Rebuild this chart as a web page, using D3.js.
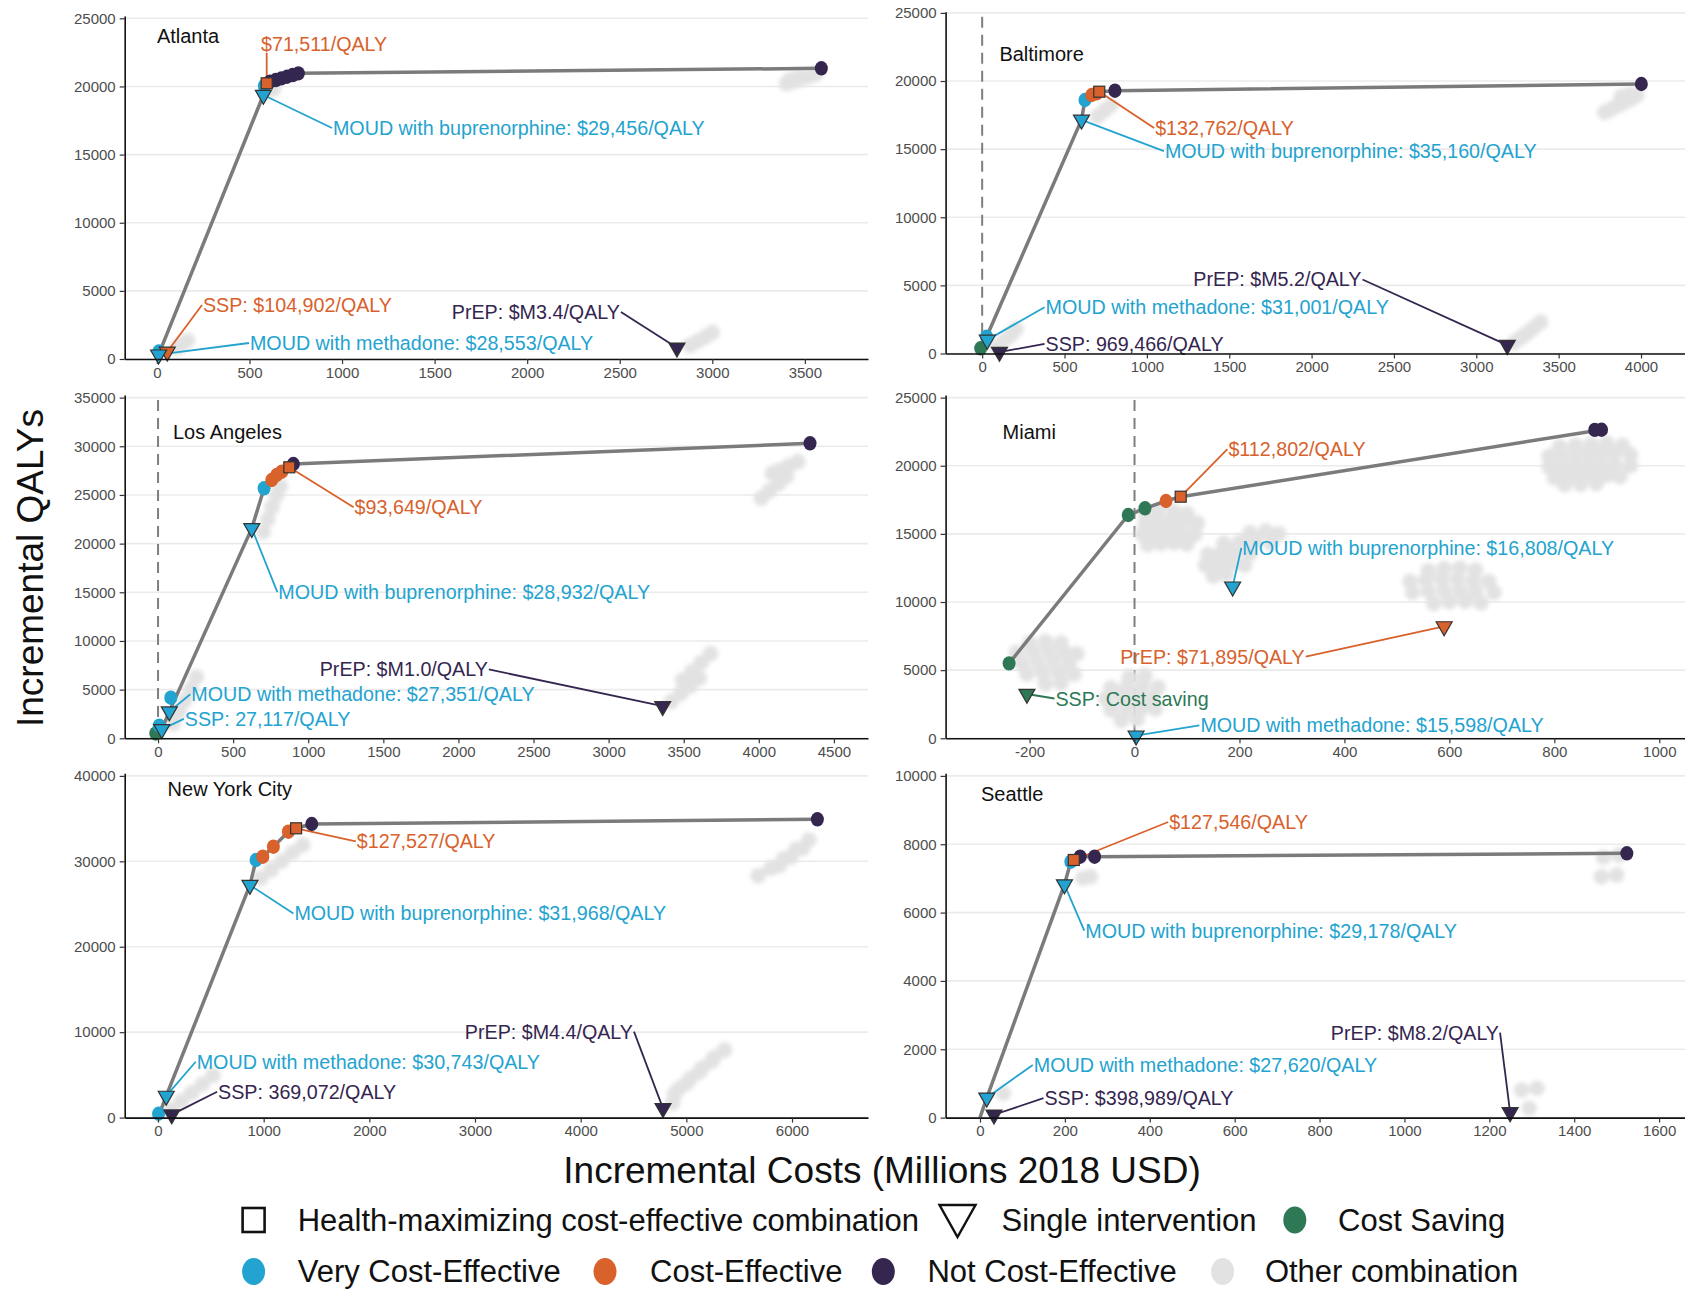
<!DOCTYPE html>
<html>
<head>
<meta charset="utf-8">
<title>Cost-effectiveness frontiers by city</title>
<script src="https://cdn.jsdelivr.net/npm/d3@7/dist/d3.min.js"></script>
<style>
  html, body { margin: 0; padding: 0; background: #fff; }
  svg text { font-family: "Liberation Sans", Arial, Helvetica, sans-serif; }
</style>
</head>
<body>
<svg id="chart" width="1685" height="1290"></svg>
<script>
// ---------------- data ----------------
// x: incremental costs (millions 2018 USD), y: incremental QALYs
const cities = ["Atlanta", "Baltimore", "Los Angeles", "Miami", "New York City", "Seattle"];

// axis limits and tick values
const atlantaXDomain = [-174, 3841],  atlantaYDomain = [0, 25169];
const baltimoreXDomain = [-222, 4267], baltimoreYDomain = [0, 25088];
const laXDomain = [-222, 4727],       laYDomain = [0, 35268];
const miamiXDomain = [-360, 1049],    miamiYDomain = [0, 25191];
const nycXDomain = [-315, 6719],      nycYDomain = [0, 40304];
const seattleXDomain = [-81, 1661],   seattleYDomain = [0, 10076];

const atlantaXTicks = [0, 500, 1000, 1500, 2000, 2500, 3000, 3500];
const atlantaYTicks = [0, 5000, 10000, 15000, 20000, 25000];
const baltimoreXTicks = [0, 500, 1000, 1500, 2000, 2500, 3000, 3500, 4000];
const baltimoreYTicks = [0, 5000, 10000, 15000, 20000, 25000];
const laXTicks = [0, 500, 1000, 1500, 2000, 2500, 3000, 3500, 4000, 4500];
const laYTicks = [0, 5000, 10000, 15000, 20000, 25000, 30000, 35000];
const miamiXTicks = [-200, 0, 200, 400, 600, 800, 1000];
const miamiYTicks = [0, 5000, 10000, 15000, 20000, 25000];
const nycXTicks = [0, 1000, 2000, 3000, 4000, 5000, 6000];
const nycYTicks = [0, 10000, 20000, 30000, 40000];
const seattleXTicks = [0, 200, 400, 600, 800, 1000, 1200, 1400, 1600];
const seattleYTicks = [0, 2000, 4000, 6000, 8000, 10000];

// efficiency frontier (ordered)
const atlantaFrontier = [[0,0],[9,315],[575,19372],[593,20230],[611,20348],[642,20470],[672,20595],[703,20712],[733,20837],[764,20960],[3589,21331]];
const baltimoreFrontier = [[-9,380],[27,1233],[603,17150],[624,18607],[665,18975],[695,19098],[711,19216],[806,19290],[4002,19781]];
const laFrontier = [[0,0],[25,922],[75,2742],[624,21568],[706,25683],[757,26536],[790,27050],[824,27390],[874,27840],[901,28180],[4341,30306]];
const miamiFrontier = [[-239,5495],[-12,16385],[20,16877],[60,17413],[88,17729],[890,22640]];
const nycFrontier = [[0,0],[78,2537],[870,27215],[928,30156],[992,30541],[1092,31712],[1234,33468],[1307,33866],[1455,34370],[6240,34919]];
const seattleFrontier = [[0,0],[16,579],[199,6820],[214,7489],[221,7539],[236,7635],[270,7635],[1524,7735]];

// intervention combinations: [cost, QALYs, category]
const atlantaCombos = [[10,550,"vce"],[580,20050,"vce"],[611,20348,"nce"],[642,20470,"nce"],[672,20595,"nce"],[703,20712,"nce"],[733,20837,"nce"],[764,20960,"nce"],[3589,21331,"nce"]];
const baltimoreCombos = [[-9,380,"cs"],[27,1233,"vce"],[624,18607,"vce"],[665,18975,"ce"],[695,19098,"ce"],[806,19290,"nce"],[4002,19781,"nce"]];
const laCombos = [[-15,500,"cs"],[8,1300,"vce"],[85,4171,"vce"],[706,25683,"vce"],[757,26536,"ce"],[790,27050,"ce"],[824,27390,"ce"],[901,28180,"nce"],[4341,30306,"nce"]];
const miamiCombos = [[-239,5495,"cs"],[-12,16385,"cs"],[20,16877,"cs"],[60,17413,"ce"],[877,22630,"nce"],[890,22640,"nce"]];
const nycCombos = [[5,450,"vce"],[928,30156,"vce"],[992,30541,"ce"],[1092,31712,"ce"],[1234,33468,"ce"],[1455,34370,"nce"],[6240,34919,"nce"]];
const seattleCombos = [[214,7489,"vce"],[236,7635,"nce"],[270,7635,"nce"],[1524,7735,"nce"]];

// health-maximizing cost-effective combination: [cost, QALYs, category, ICER]
const atlantaBest = [[593,20230,"ce","$71,511/QALY"]];
const baltimoreBest = [[711,19216,"ce","$132,762/QALY"]];
const laBest = [[874,27840,"ce","$93,649/QALY"]];
const miamiBest = [[88,17729,"ce","$112,802/QALY"]];
const nycBest = [[1307,33866,"ce","$127,527/QALY"]];
const seattleBest = [[221,7539,"ce","$127,546/QALY"]];

// single interventions: [name, cost, QALYs, category, ICER]
const atlantaSingles = [
  ["MOUD with buprenorphine", 575, 19372, "vce", "$29,456/QALY"],
  ["SSP", 56, 530, "ce", "$104,902/QALY"],
  ["MOUD with methadone", 9, 315, "vce", "$28,553/QALY"],
  ["PrEP", 2809, 826, "nce", "$M3.4/QALY"]
];
const baltimoreSingles = [
  ["MOUD with buprenorphine", 603, 17150, "vce", "$35,160/QALY"],
  ["PrEP", 3188, 613, "nce", "$M5.2/QALY"],
  ["MOUD with methadone", 31, 1000, "vce", "$31,001/QALY"],
  ["SSP", 105, 108, "nce", "969,466/QALY"]
];
const laSingles = [
  ["MOUD with buprenorphine", 624, 21568, "vce", "$28,932/QALY"],
  ["PrEP", 3360, 3300, "nce", "$M1.0/QALY"],
  ["MOUD with methadone", 75, 2742, "vce", "$27,351/QALY"],
  ["SSP", 25, 922, "vce", "27,117/QALY"]
];
const miamiSingles = [
  ["MOUD with buprenorphine", 187, 11126, "vce", "$16,808/QALY"],
  ["PrEP", 590, 8206, "ce", "$71,895/QALY"],
  ["SSP", -205, 3250, "cs", "Cost saving"],
  ["MOUD with methadone", 3, 192, "vce", "$15,598/QALY"]
];
const nycSingles = [
  ["MOUD with buprenorphine", 870, 27215, "vce", "$31,968/QALY"],
  ["PrEP", 4779, 1086, "nce", "$M4.4/QALY"],
  ["MOUD with methadone", 78, 2537, "vce", "$30,743/QALY"],
  ["SSP", 130, 352, "nce", "369,072/QALY"]
];
const seattleSingles = [
  ["MOUD with buprenorphine", 199, 6820, "vce", "$29,178/QALY"],
  ["PrEP", 1249, 152, "nce", "$M8.2/QALY"],
  ["MOUD with methadone", 16, 579, "vce", "$27,620/QALY"],
  ["SSP", 33, 83, "nce", "$398,989/QALY"]
];

// all other combinations: [cost, QALYs]
const atlantaOther = [[3400,20200],[3440,20370],[3480,20550],[3520,20720],[3560,20900],[3420,20500],[3470,20750],
  [2880,1000],[2920,1300],[2960,1600],[3000,1950],[110,800],[140,1100],[165,1350],[600,19650],[630,19800]];
const baltimoreOther = [[3780,17700],[3820,17950],[3860,18200],[3900,18450],[3940,18700],[3975,18950],[3880,18850],[3930,19050],
  [3230,800],[3270,1150],[3310,1500],[3350,1900],[3390,2300],[700,17400],[740,17800],[780,18200],
  [90,550],[130,900],[170,1300],[205,1800]];
const laOther = [[4260,28420],[4200,28000],[4140,27550],[4090,27230],[4184,26890],[4130,26150],[4070,25400],[4016,24670],
  [3679,8700],[3617,7790],[3554,6870],[3492,5960],[3604,6160],[3542,5360],[3479,4570],[3417,3770],
  [700,21200],[730,22500],[760,23800],[790,25000],[815,25900],[100,1500],[140,2700],[180,3900],[220,5100],[255,6300]];
const miamiOther = [
  [810,21400],[840,21500],[870,21600],[900,21650],[930,21500],
  [790,20700],[815,20800],[840,20850],[865,20900],[890,20950],[915,20900],[945,20800],
  [790,19900],[815,20000],[840,20050],[865,20100],[890,20150],[915,20100],[945,20000],
  [800,19100],[825,19200],[850,19250],[875,19300],[900,19300],[925,19200],
  [820,18600],[850,18650],[880,18700],
  [20,16600],[45,16700],[75,16650],[100,16500],
  [20,15800],[45,15900],[70,15950],[95,15900],[120,15800],
  [15,15000],[40,15100],[65,15150],[90,15100],[115,14950],
  [25,14200],[50,14300],[75,14350],[100,14250],
  [220,15100],[250,15200],[275,15000],
  [170,14300],[200,14400],[230,14450],[260,14300],
  [140,13500],[165,13600],[190,13650],[220,13550],
  [135,12700],[160,12800],[185,12800],[210,12700],
  [150,11900],[175,12000],
  [560,12300],[590,12450],[620,12500],[650,12350],
  [525,11500],[555,11600],[585,11650],[615,11650],[645,11600],[675,11500],
  [530,10700],[560,10800],[590,10850],[620,10850],[650,10800],[685,10700],
  [570,9900],[600,10000],[630,10050],[660,9950],
  [-200,7000],[-170,7100],[-140,7000],
  [-225,6300],[-195,6400],[-165,6450],[-135,6350],[-110,6200],
  [-215,5500],[-185,5600],[-155,5650],[-125,5500],
  [-205,4700],[-175,4800],[-145,4800],[-115,4700],
  [-170,4000],[-140,4050],
  [-10,4500],[20,4600],
  [-45,3700],[-15,3800],[15,3850],[45,3750],
  [-55,2900],[-25,3000],[5,3050],[35,2950],
  [-45,2100],[-15,2200],[15,2250],[40,2150],
  [-25,1300],[5,1400]
];
const nycOther = [[6160,32500],[6040,31400],[5920,30300],[5800,29200],[5680,28300],[6100,31500],[5990,30500],[5880,29500],
  [5360,7900],[5240,6600],[5120,5300],[5000,4000],[4890,2800],[5260,7000],[5150,5800],[5040,4600],[4930,3400],[4870,1700],
  [970,28000],[1070,29000],[1170,30000],[1270,31000],[1370,31900],[120,900],[220,1900],[320,2900],[420,3900],[520,4950]];
const seattleOther = [[1469,7620],[1506,7680],[1464,7050],[1500,7100],[1276,808],[1312,857],[1294,272],[242,7003],[260,7050],[55,711]];

const legendLabels = ["Health-maximizing cost-effective combination", "Single intervention", "Cost Saving",
  "Very Cost-Effective", "Cost-Effective", "Not Cost-Effective", "Other combination"];
const xTitle = "Incremental Costs (Millions 2018 USD)";
const yTitle = "Incremental QALYs";

// ---------------- styling & layout ----------------
const COLORS = { cs: "#2e7856", vce: "#23a3cf", ce: "#d8612c", nce: "#34264f", other: "#e2e2e2" };

const panels = [
  { city: cities[0], xd: atlantaXDomain, yd: atlantaYDomain, xt: atlantaXTicks, yt: atlantaYTicks, frontier: atlantaFrontier, combos: atlantaCombos, best: atlantaBest, singles: atlantaSingles, other: atlantaOther, zero: false },
  { city: cities[1], xd: baltimoreXDomain, yd: baltimoreYDomain, xt: baltimoreXTicks, yt: baltimoreYTicks, frontier: baltimoreFrontier, combos: baltimoreCombos, best: baltimoreBest, singles: baltimoreSingles, other: baltimoreOther, zero: true },
  { city: cities[2], xd: laXDomain, yd: laYDomain, xt: laXTicks, yt: laYTicks, frontier: laFrontier, combos: laCombos, best: laBest, singles: laSingles, other: laOther, zero: true },
  { city: cities[3], xd: miamiXDomain, yd: miamiYDomain, xt: miamiXTicks, yt: miamiYTicks, frontier: miamiFrontier, combos: miamiCombos, best: miamiBest, singles: miamiSingles, other: miamiOther, zero: true },
  { city: cities[4], xd: nycXDomain, yd: nycYDomain, xt: nycXTicks, yt: nycYTicks, frontier: nycFrontier, combos: nycCombos, best: nycBest, singles: nycSingles, other: nycOther, zero: false },
  { city: cities[5], xd: seattleXDomain, yd: seattleYDomain, xt: seattleXTicks, yt: seattleYTicks, frontier: seattleFrontier, combos: seattleCombos, best: seattleBest, singles: seattleSingles, other: seattleOther, zero: false }
];

// panel frames: [left, right, top, bottom] in px
const frames = {
  "Atlanta":       [124.7, 868, 16, 359],
  "Baltimore":     [945.6, 1685, 11.7, 353.5],
  "Los Angeles":   [124.7, 868, 395, 738.3],
  "Miami":         [945.6, 1685, 395, 738.3],
  "New York City": [124.7, 868, 773.3, 1117.6],
  "Seattle":       [945.6, 1685, 773.3, 1117.6]
};
const titleSpots = {
  "Atlanta": [156.9, 35.5], "Baltimore": [999.4, 53.7], "Los Angeles": [173, 432],
  "Miami": [1002.6, 432], "New York City": [167.6, 788.8], "Seattle": [981, 794.1]
};
// label placement: pixel offset from the labelled mark and text anchor
const labelLayout = {
  "Atlanta": { best: [-5.7, -39.3, "start"], "MOUD with buprenorphine": [69.6, 33, "start"], "SSP": [35.7, -46.8, "start"], "MOUD with methadone": [91.4, -11.7, "start"], "PrEP": [-57, -35.7, "end"] },
  "Baltimore": { best: [55.9, 36.3, "start"], "MOUD with buprenorphine": [83.4, 31.2, "start"], "PrEP": [-145.8, -65.7, "end"], "MOUD with methadone": [58.3, -32.6, "start"], "SSP": [46.1, -8.1, "start"] },
  "Los Angeles": { best: [65.3, 39.9, "start"], "MOUD with buprenorphine": [26.6, 63.7, "start"], "PrEP": [-174.8, -36.7, "end"], "MOUD with methadone": [22, -17.4, "start"], "SSP": [23, -10.4, "start"] },
  "Miami": { best: [47.7, -47.5, "start"], "MOUD with buprenorphine": [9.7, -38.7, "start"], "PrEP": [-139.4, 30.1, "end"], "SSP": [28.5, 4.5, "start"], "MOUD with methadone": [64.3, -10.3, "start"] },
  "New York City": { best: [60.7, 13.1, "start"], "MOUD with buprenorphine": [44.5, 28.3, "start"], "PrEP": [-30, -76.7, "end"], "MOUD with methadone": [30.5, -34.2, "start"], "SSP": [46.4, -22.8, "start"] },
  "Seattle": { best: [95.4, -38, "start"], "MOUD with buprenorphine": [20.8, 46, "start"], "PrEP": [-11.1, -79.7, "end"], "MOUD with methadone": [47, -32.9, "start"], "SSP": [50.5, -16.6, "start"] }
};

const svg = d3.select("#chart");
svg.append("defs").append("filter").attr("id", "soft")
  .attr("x", "-20%").attr("y", "-20%").attr("width", "140%").attr("height", "140%")
  .append("feGaussianBlur").attr("stdDeviation", 2);

const triPath = "M-8,-4.7L8,-4.7L0,9.3Z";

function drawPanel(p) {
  const [L, R, T, B] = frames[p.city];
  const x = d3.scaleLinear().domain(p.xd).range([L, R]);
  const y = d3.scaleLinear().domain(p.yd).range([B, T]);
  const g = svg.append("g").attr("class", "panel");

  // horizontal grid
  g.append("g").selectAll("line").data(p.yt).join("line")
    .attr("x1", L).attr("x2", R)
    .attr("y1", d => y(d)).attr("y2", d => y(d))
    .attr("stroke", "#ebebeb").attr("stroke-width", 1.6);

  // break-even cost line
  if (p.zero) {
    g.append("line")
      .attr("x1", x(0)).attr("x2", x(0)).attr("y1", T + 5).attr("y2", B)
      .attr("stroke", "#7f7f7f").attr("stroke-width", 2).attr("stroke-dasharray", "11,7");
  }

  // other combinations
  g.append("g").attr("filter", "url(#soft)")
    .selectAll("circle").data(p.other).join("circle")
    .attr("cx", d => x(d[0])).attr("cy", d => y(d[1])).attr("r", 7.8)
    .attr("fill", COLORS.other);

  // frontier
  g.append("path").datum(p.frontier)
    .attr("d", d3.line().x(d => x(d[0])).y(d => y(d[1])))
    .attr("fill", "none").attr("stroke", "#7b7b7b").attr("stroke-width", 3.5)
    .attr("stroke-linejoin", "round");

  const segG = g.append("g");
  const markG = g.append("g");
  const labG = g.append("g");

  // combination points
  markG.selectAll("ellipse").data(p.combos).join("ellipse")
    .attr("cx", d => x(d[0])).attr("cy", d => y(d[1]))
    .attr("rx", 6.5).attr("ry", 7.2)
    .attr("fill", d => COLORS[d[2]]);

  // health-maximizing combination
  markG.selectAll("rect").data(p.best).join("rect")
    .attr("x", d => x(d[0]) - 5.5).attr("y", d => y(d[1]) - 5.5)
    .attr("width", 11).attr("height", 11)
    .attr("fill", d => COLORS[d[2]]).attr("stroke", "#333").attr("stroke-width", 1.2);

  // single interventions
  markG.selectAll("path").data(p.singles).join("path")
    .attr("d", triPath)
    .attr("transform", d => `translate(${x(d[1])},${y(d[2])})`)
    .attr("fill", d => COLORS[d[3]]).attr("stroke", "#333").attr("stroke-width", 1.2);

  // labels with leader segments
  const lay = labelLayout[p.city];
  const labelled = [
    ...p.best.map(d => ({ key: "best", cx: x(d[0]), cy: y(d[1]), cls: d[2], text: d[3] })),
    ...p.singles.map(d => ({ key: d[0], cx: x(d[1]), cy: y(d[2]), cls: d[3], text: `${d[0]}: ${d[4]}` }))
  ];
  labelled.forEach(m => {
    const off = lay[m.key];
    const t = labG.append("text")
      .attr("x", m.cx + off[0]).attr("y", m.cy + off[1])
      .attr("text-anchor", off[2]).attr("dominant-baseline", "central")
      .attr("font-size", 19.7).attr("fill", COLORS[m.cls]).text(m.text);
    const bb = t.node().getBBox();
    let ex, ey;
    if (m.cx < bb.x) { ex = bb.x - 1; ey = bb.y + bb.height / 2; }
    else if (m.cx > bb.x + bb.width) { ex = bb.x + bb.width + 1; ey = bb.y + bb.height / 2; }
    else { ex = m.cx; ey = m.cy < bb.y ? bb.y + 2 : bb.y + bb.height - 2; }
    segG.append("line")
      .attr("x1", m.cx).attr("y1", m.cy).attr("x2", ex).attr("y2", ey)
      .attr("stroke", COLORS[m.cls]).attr("stroke-width", 1.8);
  });

  // axes
  const fmt = d => String(d);
  const ax = g.append("g").attr("transform", `translate(0,${B})`)
    .call(d3.axisBottom(x).tickValues(p.xt).tickFormat(fmt).tickSize(5).tickSizeOuter(0).tickPadding(3));
  const ay = g.append("g").attr("transform", `translate(${L},0)`)
    .call(d3.axisLeft(y).tickValues(p.yt).tickFormat(fmt).tickSize(5).tickSizeOuter(0).tickPadding(4));
  [ax, ay].forEach(a => {
    a.select(".domain").attr("stroke", "#111").attr("stroke-width", 1.6);
    a.selectAll(".tick line").attr("stroke", "#333").attr("stroke-width", 1.2);
    a.selectAll(".tick text").attr("font-size", 15).attr("fill", "#4d4d4d")
      .attr("font-family", "\"Liberation Sans\", Arial, sans-serif");
  });

  // panel title
  const tp = titleSpots[p.city];
  g.append("text").attr("x", tp[0]).attr("y", tp[1])
    .attr("dominant-baseline", "central").attr("font-size", 20).attr("fill", "#111")
    .text(p.city);
}

panels.forEach(drawPanel);

// axis titles
svg.append("text").attr("x", 882).attr("y", 1170)
  .attr("text-anchor", "middle").attr("dominant-baseline", "central")
  .attr("font-size", 37).attr("fill", "#111").text(xTitle);
svg.append("text").attr("transform", "translate(30,568) rotate(-90)")
  .attr("text-anchor", "middle").attr("dominant-baseline", "central")
  .attr("font-size", 37).attr("fill", "#111").text(yTitle);

// legend
const legendLayout = [
  { sym: "square", x: 253.6, tx: 297.7, y: 1220 },
  { sym: "triangle", x: 957.5, tx: 1001.5, y: 1220 },
  { sym: "cs", x: 1294.8, tx: 1338, y: 1220 },
  { sym: "vce", x: 253.6, tx: 297.7, y: 1271.5 },
  { sym: "ce", x: 605, tx: 650, y: 1271.5 },
  { sym: "nce", x: 883.3, tx: 927.4, y: 1271.5 },
  { sym: "other", x: 1222.6, tx: 1264.9, y: 1271.5 }
];
const lg = svg.append("g").attr("class", "legend");
legendLayout.forEach((it, i) => {
  if (it.sym === "square") {
    lg.append("rect").attr("x", it.x - 11).attr("y", it.y - 12).attr("width", 22).attr("height", 24)
      .attr("fill", "none").attr("stroke", "#111").attr("stroke-width", 2.6);
  } else if (it.sym === "triangle") {
    lg.append("path").attr("d", "M-18,-15L18,-15L0,17Z")
      .attr("transform", `translate(${it.x},${it.y})`)
      .attr("fill", "none").attr("stroke", "#111").attr("stroke-width", 2.4);
  } else {
    lg.append("ellipse").attr("cx", it.x).attr("cy", it.y).attr("rx", 11.5).attr("ry", 13.5)
      .attr("fill", COLORS[it.sym]);
  }
  lg.append("text").attr("x", it.tx).attr("y", it.y)
    .attr("dominant-baseline", "central").attr("font-size", 31).attr("fill", "#111")
    .text(legendLabels[i]);
});
</script>
</body>
</html>
